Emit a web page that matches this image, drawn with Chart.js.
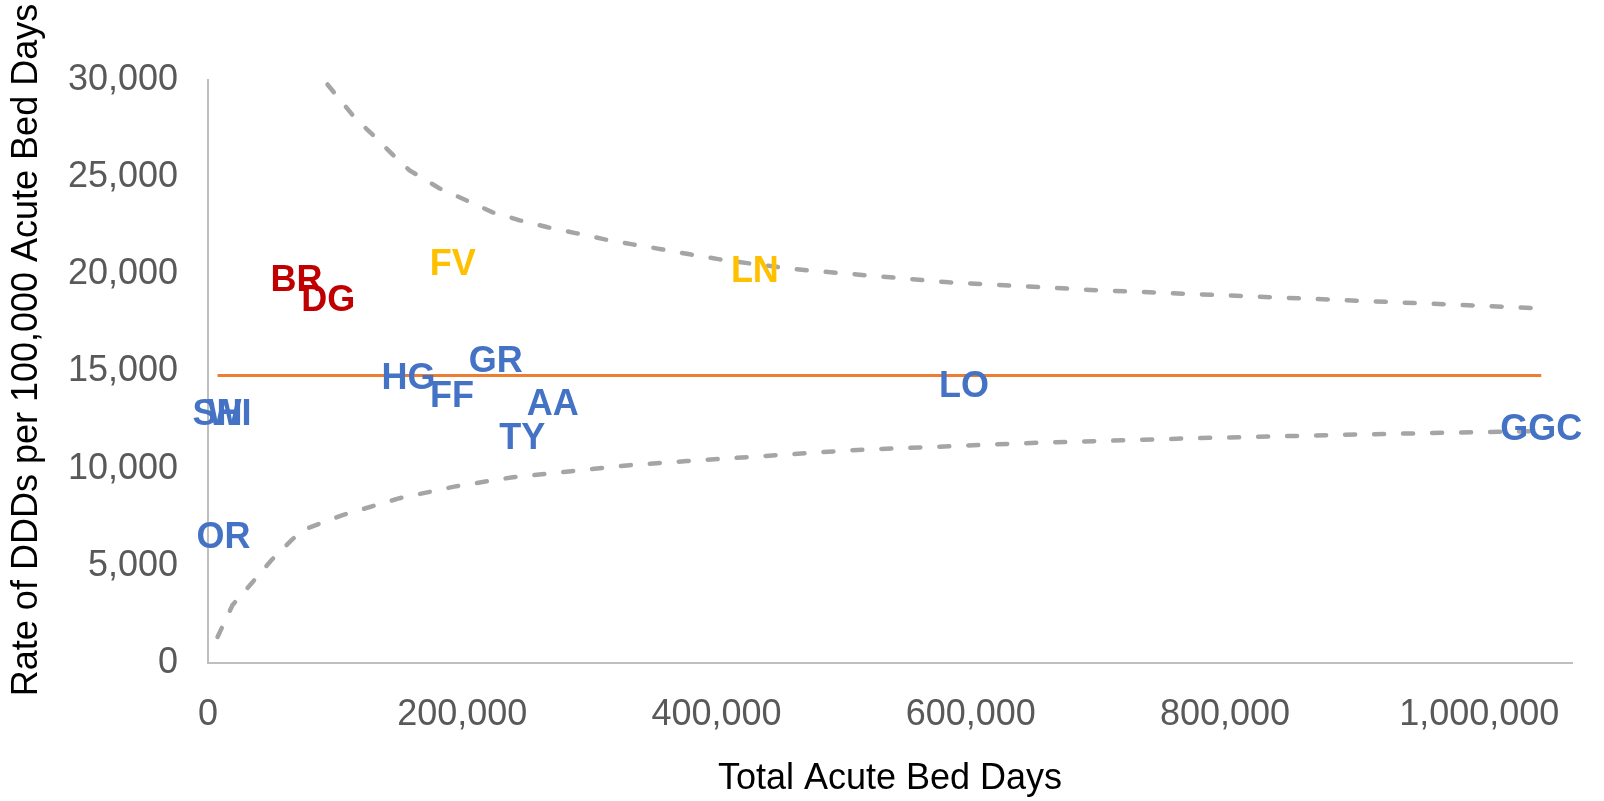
<!DOCTYPE html>
<html>
<head>
<meta charset="utf-8">
<title>DDDs per 100,000 acute bed days by board</title>
<script src="https://cdn.jsdelivr.net/npm/chart.js@4.4.1/dist/chart.umd.min.js"></script>
<style>
  html, body { margin: 0; padding: 0; background: #fff; }
  #wrap { width: 1604px; height: 801px; position: relative; }
</style>
</head>
<body>
<div id="wrap"><canvas id="funnel"></canvas></div>
<script>
// Health board results: total acute bed days vs rate of DDDs per 100,000 bed days.
const boardCodes = ["AA", "BR", "DG", "FF", "FV", "GR", "GGC", "HG", "LN", "LO", "OR", "SH", "TY", "WI"];
const bedDays = [271150, 69700, 94500, 192000, 192500, 226300, 1048800, 157800, 430200, 594700, 12200, 7500, 247200, 16900];
const dddRate = [13450, 19820, 18770, 13860, 20640, 15630, 12160, 14760, 20260, 14370, 6580, 12900, 11650, 12900];
// "high" = above upper limit, "warn" = close to it, "ok" = within limits
const boardStatus = ["ok", "high", "high", "ok", "warn", "ok", "ok", "ok", "warn", "ok", "ok", "ok", "ok", "ok"];

// Scotland-wide mean rate
const meanRate = 14800;

// Control limits (funnel)
const upperDays = [94000, 115300, 132600, 148400, 158600, 182200, 203500, 223900, 245200, 267200, 290000,
  312100, 334100, 357700, 379000, 402600, 426200, 449800, 471100, 582800, 700100, 818200, 935500, 1048800];
const upperRate = [29770, 28070, 26990, 25960, 25350, 24420, 23800, 23190, 22780, 22420, 22110,
  21800, 21540, 21280, 21030, 20770, 20560, 20360, 20210, 19590, 19180, 18870, 18560, 18250];
const lowerDays = [7500, 19300, 35000, 50000, 65700, 74400, 105900, 150700, 195600, 239700, 286100,
  331800, 376600, 506500, 641900, 778100, 913500, 1048800];
const lowerRate = [1340, 2980, 4160, 5300, 6320, 6840, 7610, 8480, 9100, 9560, 9870,
  10180, 10390, 10950, 11310, 11570, 11770, 11940];

// Axis ranges and tick values
const xRange = [0, 1073000];
const xTickValues = [0, 200000, 400000, 600000, 800000, 1000000];
const yRange = [0, 30000];
const yTickValues = [0, 5000, 10000, 15000, 20000, 25000, 30000];

const FONT = '"Liberation Sans", Arial, sans-serif';
const statusColor = { ok: "#4472C4", warn: "#FFC000", high: "#C00000" };

const pts = (xs, ys) => xs.map((x, i) => ({ x, y: ys[i] }));
const fmt = (v) => Number(v).toLocaleString("en-US");

// Board codes drawn centred (on cap height) over their hidden points.
const boardLabels = {
  id: "boardLabels",
  afterDatasetsDraw(chart) {
    const { ctx } = chart;
    const meta = chart.getDatasetMeta(0);
    const size = 36;
    ctx.save();
    ctx.font = `bold ${size}px ${FONT}`;
    ctx.textAlign = "center";
    ctx.textBaseline = "alphabetic";
    meta.data.forEach((el, i) => {
      ctx.fillStyle = statusColor[boardStatus[i]];
      ctx.fillText(boardCodes[i], el.x, el.y + size * 0.358);
    });
    ctx.restore();
  },
};

// Y title is long enough to run off the top, so it is placed by hand.
const yTitle = {
  id: "yTitle",
  afterDraw(chart) {
    const { ctx } = chart;
    ctx.save();
    ctx.translate(27, 350);
    ctx.rotate(-Math.PI / 2);
    ctx.font = `36px ${FONT}`;
    ctx.fillStyle = "#000";
    ctx.textAlign = "center";
    ctx.textBaseline = "middle";
    ctx.fillText("Rate of DDDs per 100,000 Acute Bed Days", 0, 0);
    ctx.restore();
  },
};

const nMin = Math.min(...bedDays), nMax = Math.max(...bedDays);

const limitStyle = {
  type: "line",
  borderColor: "#A5A5A5",
  borderWidth: 4.5,
  borderDash: [10, 19],
  borderCapStyle: "round",
  pointRadius: 0,
  fill: false,
  tension: 0,
};

new Chart(document.getElementById("funnel"), {
  type: "scatter",
  data: {
    datasets: [
      { label: "Boards", data: pts(bedDays, dddRate), pointRadius: 0, pointHoverRadius: 0 },
      { ...limitStyle, label: "Upper limit", data: pts(upperDays, upperRate) },
      { ...limitStyle, label: "Lower limit", data: pts(lowerDays, lowerRate) },
      {
        type: "line", label: "Mean", data: [{ x: nMin, y: meanRate }, { x: nMax, y: meanRate }],
        borderColor: "#ED7D31", borderWidth: 3, pointRadius: 0, fill: false,
      },
    ],
  },
  options: {
    responsive: true,
    maintainAspectRatio: false,
    animation: false,
    layout: { padding: { left: 0, right: 32, top: 80, bottom: 0 } },
    plugins: { legend: { display: false }, tooltip: { enabled: false } },
    scales: {
      x: {
        type: "linear",
        min: xRange[0],
        max: xRange[1],
        grid: { display: false },
        border: { display: true, color: "#BFBFBF", width: 2 },
        ticks: {
          padding: 22, color: "#595959", font: { family: FONT, size: 36 }, maxRotation: 0,
          autoSkip: false, callback: fmt,
        },
        afterBuildTicks(s) { s.ticks = xTickValues.map((value) => ({ value })); },
        title: {
          display: true, text: "Total Acute Bed Days", color: "#000",
          font: { family: FONT, size: 36 }, padding: { top: 0, bottom: 0 },
        },
        afterFit(s) { s.height = 138; },
      },
      y: {
        type: "linear",
        min: yRange[0],
        max: yRange[1],
        grid: { display: false },
        border: { display: true, color: "#BFBFBF", width: 2 },
        ticks: {
          padding: 22, color: "#595959", font: { family: FONT, size: 36 },
          autoSkip: false, callback: fmt,
        },
        afterBuildTicks(s) { s.ticks = yTickValues.map((value) => ({ value })); },
        afterFit(s) { s.width = 208; },
      },
    },
  },
  plugins: [boardLabels, yTitle],
});
</script>
</body>
</html>
